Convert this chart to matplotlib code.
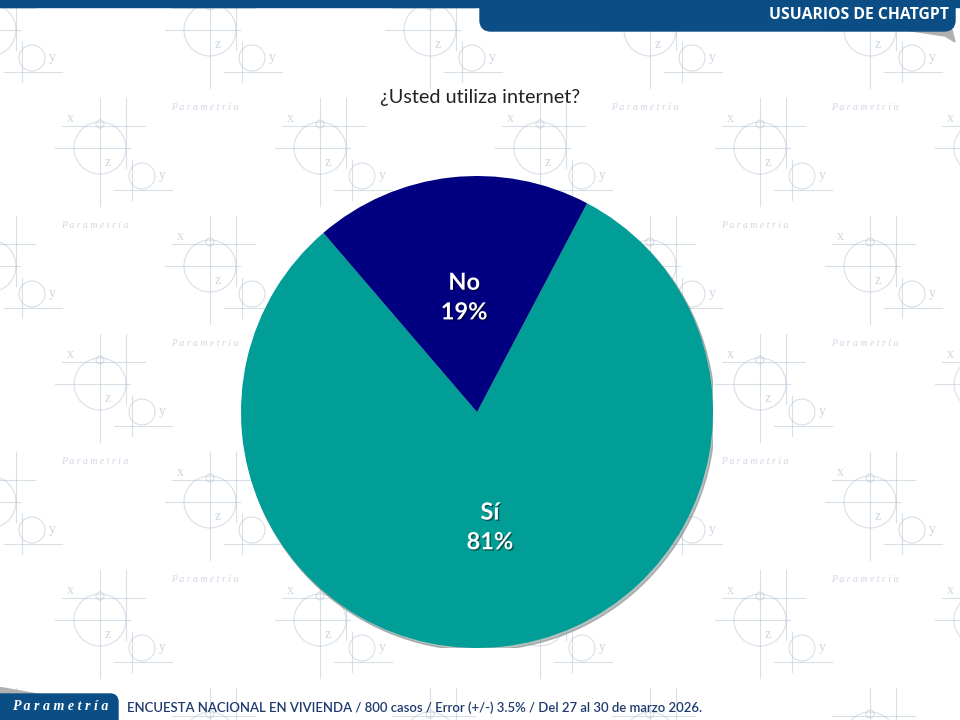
import matplotlib
matplotlib.use("Agg")
import matplotlib.pyplot as plt
import matplotlib.patches as mpatches
import matplotlib.patheffects as pe

# datos
categorias = ["Sí", "No"]
porcentajes = [81, 19]
colores = ["#009E96", "#000080"]

titulo = "¿Usted utiliza internet?"
encabezado = "USUARIOS DE CHATGPT"
pie_nota = "ENCUESTA NACIONAL EN VIVIENDA / 800 casos / Error (+/-) 3.5% / Del 27 al 30 de marzo 2026."

azul = "#0B4D85"
marca = "#B9C5D5"

# centro y radio del pastel, en pixeles
cx, cy, r = 477, 412, 236

fig = plt.figure(figsize=(9.6, 7.2), dpi=100)
fig.patch.set_facecolor("white")

fondo = fig.add_axes([0, 0, 1, 1])
fondo.set_xlim(0, 960)
fondo.set_ylim(720, 0)
fondo.axis("off")


def libre(x, y, margen):
    # sin texto de fondo bajo el pastel, el titulo, bordes, encabezado o pie
    if x < margen or x > 960 - margen or y < 40 or y > 684:
        return False
    if 360 < x < 600 and 80 < y < 115:
        return False
    return (x - cx) ** 2 + (y - cy) ** 2 > (r + 12) ** 2


def motivo(ax, mx, my):
    kw = dict(color=marca, lw=0.8, alpha=0.55, zorder=1)
    ax.add_patch(mpatches.Circle((mx, my), 26, fill=False, **kw))
    ax.add_patch(mpatches.Circle((mx, my - 24), 4, fill=False, **kw))
    ax.add_patch(mpatches.Circle((mx + 42, my + 28), 13, fill=False, **kw))
    ax.plot([mx, mx], [my - 50, my + 58], **kw)
    ax.plot([mx + 26, mx + 26], [my - 50, my + 20], **kw)
    ax.plot([mx - 38, mx + 45], [my - 22, my - 22], **kw)
    ax.plot([mx - 45, mx + 30], [my, my], **kw)
    ax.plot([mx + 14, mx + 72], [my + 42, my + 42], **kw)
    ax.plot([mx + 32, mx + 32], [my + 12, my + 52], **kw)
    tk = dict(color=marca, alpha=0.7, fontsize=10, family="Liberation Serif",
              ha="center", va="center", zorder=1)
    for dx, dy, s in [(-30, -30, "x"), (8, 14, "z"), (62, 28, "y")]:
        if libre(mx + dx, my + dy, 6):
            ax.text(mx + dx, my + dy, s, **tk)
    if libre(mx - 5, my + 78, 40):
        ax.text(mx - 5, my + 78, "P a r a m e t r í a", color=marca, alpha=0.7,
                fontsize=7, family="Liberation Serif", style="italic",
                ha="center", va="center", zorder=1)


for fila in range(7):
    y0 = 30 + fila * 118
    desfase = 0 if fila % 2 == 0 else 110
    for col in range(6):
        motivo(fondo, -10 + desfase + col * 220, y0)

# franja superior y encabezado
fondo.add_patch(mpatches.Rectangle((0, 0), 960, 7, color=azul, zorder=3))
fondo.add_patch(mpatches.Polygon([(905, 30), (952, 30), (955, 42), (945, 36)],
                                 closed=True, color="#B0B0B0", zorder=3))
fondo.add_patch(mpatches.FancyBboxPatch((480, -15), 475, 46,
                                        boxstyle="round,pad=0,rounding_size=11",
                                        color=azul, zorder=4))

# logo inferior
fondo.add_patch(mpatches.Polygon([(0, 687), (0, 695), (45, 695)],
                                 closed=True, color="#B0B0B0", zorder=3))
fondo.add_patch(mpatches.FancyBboxPatch((-15, 694), 133, 40,
                                        boxstyle="round,pad=0,rounding_size=8",
                                        color=azul, zorder=4))

renderer = fig.canvas.get_renderer()


def ajustar(t, ancho):
    for _ in range(3):
        w = t.get_window_extent(renderer).width
        t.set_fontsize(t.get_fontsize() * ancho / w)


t = fondo.text(949, 15, encabezado, color="white", fontsize=12, weight="bold",
               family="Open Sans", ha="right", va="center", zorder=5)
ajustar(t, 180)

t = fondo.text(60, 707, "P a r a m e t r í a", color="white", fontsize=11,
               weight="bold", style="italic", family="Liberation Serif",
               ha="center", va="center", zorder=5)
ajustar(t, 96)

t = fondo.text(127, 708, pie_nota, color="#1F3A6E", fontsize=10,
               family="Lato", weight="semibold", ha="left", va="center", zorder=5)
ajustar(t, 576)

t = fondo.text(480, 97, titulo, color="#222222", fontsize=14,
               family="Lato", ha="center", va="center", zorder=5)
ajustar(t, 200)

# pastel
ax = fig.add_axes([(cx - r) / 960, (720 - cy - r) / 720, 2 * r / 960, 2 * r / 720])
ax.set_zorder(2)
ax.add_patch(mpatches.Circle((0.008, -0.011), 1.0, color="#708080", alpha=0.5,
                             zorder=0))
etiquetas = [f"{c}\n{v}%" for c, v in zip(categorias, porcentajes)]
cunas, textos = ax.pie(porcentajes, colors=colores, startangle=130.6,
                       labels=etiquetas, labeldistance=0.49,
                       wedgeprops=dict(linewidth=0),
                       textprops=dict(color="white", fontsize=17, weight="bold",
                                      family="Lato", ha="center", va="center",
                                      linespacing=1.35))
for w in cunas:
    w.set_zorder(1)
for tx in textos:
    tx.set_zorder(3)
    tx.set_path_effects([pe.SimplePatchShadow(offset=(1, -1), shadow_rgbFace="black",
                                              alpha=0.45), pe.Normal()])
ax.set_xlim(-1, 1)
ax.set_ylim(-1, 1)
ax.axis("off")

fig.savefig("out.png", dpi=100)
